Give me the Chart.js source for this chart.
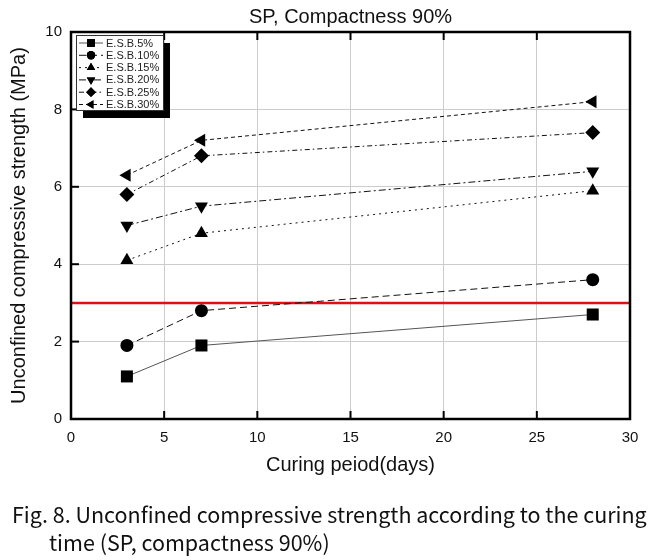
<!DOCTYPE html>
<html>
<head>
<meta charset="utf-8">
<script src="https://cdn.jsdelivr.net/npm/chart.js@4/dist/chart.umd.min.js"></script>
<style>
  html, body { margin: 0; padding: 0; background: #fff; }
  #wrap { position: relative; width: 659px; height: 560px; }
  #c { position: absolute; left: 0; top: 0; }
  #cap { position: absolute; left: 12px; top: 500px; width: 647px;
         font-family: "Noto Sans CJK KR", "Liberation Sans", sans-serif;
         font-size: 21.5px; line-height: 27.5px; color: #111; white-space: nowrap; }
  #cap .l2 { padding-left: 37px; }
</style>
</head>
<body>
<div id="wrap">
  <canvas id="c" width="659" height="560"></canvas>
  <div id="cap"><div>Fig. 8. Unconfined compressive strength according to the curing</div><div class="l2">time (SP, compactness 90%)</div></div>
</div>
<script>
const days = [3, 7, 28];
const seriesNames = ['E.S.B.5%', 'E.S.B.10%', 'E.S.B.15%', 'E.S.B.20%', 'E.S.B.25%', 'E.S.B.30%'];
const esb5  = [1.1, 1.9, 2.7];
const esb10 = [1.9, 2.8, 3.6];
const esb15 = [4.1, 4.8, 5.9];
const esb20 = [5.0, 5.5, 6.4];
const esb25 = [5.8, 6.8, 7.4];
const esb30 = [6.3, 7.2, 8.2];
const criterionX = [0, 30];
const criterionY = [3, 3];
const xTicks = [0, 5, 10, 15, 20, 25, 30];
const yTicks = [0, 2, 4, 6, 8, 10];

const seriesValues = [esb5, esb10, esb15, esb20, esb25, esb30];
const styles = [
  { pointStyle: 'rect', r: 8.5, rot: 0, dash: [], color: '#555' },
  { pointStyle: 'circle', r: 6.5, rot: 0, dash: [7, 4], color: '#111' },
  { pointStyle: 'triangle', r: 7.5, rot: 0, dash: [2, 4], color: '#111' },
  { pointStyle: 'triangle', r: 7.5, rot: 180, dash: [7, 3, 2, 3], color: '#111' },
  { pointStyle: 'rectRot', r: 7.5, rot: 0, dash: [5, 3, 1.5, 3], color: '#111' },
  { pointStyle: 'triangle', r: 7.5, rot: -90, dash: [4, 3], color: '#111' }
];

const datasets = seriesValues.map((vals, i) => ({
  label: seriesNames[i],
  data: days.map((d, j) => ({ x: d, y: vals[j] })),
  showLine: true,
  borderColor: styles[i].color,
  borderWidth: 1,
  borderDash: styles[i].dash,
  pointStyle: styles[i].pointStyle,
  pointRadius: styles[i].r,
  pointRotation: styles[i].rot,
  pointBackgroundColor: '#000',
  pointBorderColor: '#000',
  pointBorderWidth: 0,
  fill: false
}));
datasets.push({
  label: 'criterion',
  data: criterionX.map((x, j) => ({ x: x, y: criterionY[j] })),
  showLine: true,
  borderColor: '#e01010',
  borderWidth: 2.5,
  pointRadius: 0,
  fill: false
});

const FONT = '"Liberation Sans", Arial, sans-serif';

const framePlugin = {
  id: 'frame',
  afterDraw(chart) {
    const { ctx, chartArea: a, scales } = chart;
    ctx.save();
    ctx.strokeStyle = '#000';
    ctx.lineWidth = 2;
    ctx.setLineDash([]);
    xTicks.slice(1, -1).forEach(v => {
      const px = scales.x.getPixelForValue(v);
      ctx.beginPath();
      ctx.moveTo(px, a.bottom); ctx.lineTo(px, a.bottom - 8);
      ctx.moveTo(px, a.top); ctx.lineTo(px, a.top + 8);
      ctx.stroke();
    });
    yTicks.slice(1, -1).forEach(v => {
      const py = scales.y.getPixelForValue(v);
      ctx.beginPath();
      ctx.moveTo(a.left, py); ctx.lineTo(a.left + 8, py);
      ctx.stroke();
    });
    ctx.lineWidth = 2.5;
    ctx.strokeRect(a.left, a.top, a.right - a.left, a.bottom - a.top);

    // legend
    const bx = 76, by = 35, bw = 87, bh = 75;
    ctx.fillStyle = '#000';
    ctx.fillRect(bx + 7, by + 8, bw, bh);
    ctx.fillStyle = '#fff';
    ctx.fillRect(bx, by, bw, bh);
    ctx.lineWidth = 1;
    ctx.strokeStyle = '#333';
    ctx.strokeRect(bx + 0.5, by + 0.5, bw, bh);
    ctx.font = '11px ' + FONT;
    ctx.textBaseline = 'middle';
    ctx.textAlign = 'left';
    seriesNames.forEach((name, i) => {
      const y = 43 + i * 12.3;
      ctx.strokeStyle = styles[i].color;
      ctx.lineWidth = 1;
      ctx.setLineDash(styles[i].dash);
      ctx.beginPath();
      ctx.moveTo(79, y); ctx.lineTo(103, y);
      ctx.stroke();
      ctx.setLineDash([]);
      ctx.fillStyle = '#000';
      ctx.strokeStyle = '#000';
      Chart.helpers.drawPoint(ctx, { pointStyle: styles[i].pointStyle, radius: styles[i].r * 0.65, rotation: styles[i].rot, borderWidth: 0 }, 91, y);
      ctx.fill();
      ctx.fillStyle = '#222';
      ctx.fillText(name, 106, y + 0.5);
    });
    ctx.restore();
  }
};

new Chart(document.getElementById('c'), {
  type: 'scatter',
  data: { datasets },
  plugins: [framePlugin],
  options: {
    responsive: false,
    animation: false,
    devicePixelRatio: 1,
    layout: { padding: { left: 0, top: 0, right: 29, bottom: 81 } },
    plugins: {
      legend: { display: false },
      tooltip: { enabled: false },
      title: {
        display: true,
        fullSize: false,
        text: 'SP, Compactness 90%',
        color: '#111',
        font: { family: FONT, size: 20, weight: 'normal', lineHeight: 1.2 },
        padding: { top: 5, bottom: 3 }
      }
    },
    scales: {
      x: {
        type: 'linear', min: 0, max: 30,
        afterFit(s) { s.height = 60; },
        afterBuildTicks(s) { s.ticks = xTicks.map(v => ({ value: v })); },
        grid: { color: '#cccccc', lineWidth: 1, drawTicks: false },
        border: { display: false },
        ticks: { color: '#111', padding: 10, font: { family: FONT, size: 15 } },
        title: { display: true, text: 'Curing peiod(days)', color: '#111', padding: { top: 0, bottom: 2 },
                 font: { family: FONT, size: 20, lineHeight: 1.2 } }
      },
      y: {
        type: 'linear', min: 0, max: 10,
        afterFit(s) { s.width = 71; },
        afterBuildTicks(s) { s.ticks = yTicks.map(v => ({ value: v })); },
        grid: { color: '#cccccc', lineWidth: 1, drawTicks: false },
        border: { display: false },
        ticks: { color: '#111', padding: 9, font: { family: FONT, size: 15 } },
        title: { display: true, text: 'Unconfined compressive strength (MPa)', color: '#111', padding: { top: 7, bottom: 0 },
                 font: { family: FONT, size: 20, lineHeight: 1.2 } }
      }
    }
  }
});
</script>
</body>
</html>
